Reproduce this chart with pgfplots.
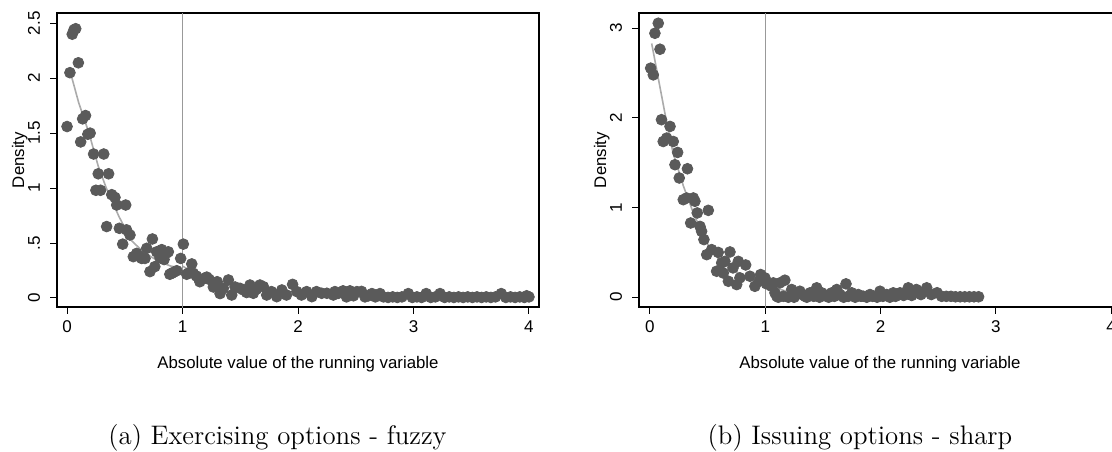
\documentclass[border=0pt]{standalone}
\usepackage{pgfplots}
\pgfplotsset{compat=1.18}
\usepackage{fontspec}
\newfontfamily\statafont{Liberation Sans}
\definecolor{dotc}{HTML}{5A5A5A}
\definecolor{fitc}{HTML}{ABABAB}
\definecolor{vlc}{HTML}{999999}
\pgfplotsset{
 stata/.style={
  scale only axis, width=241pt, height=147pt, anchor=south west,
  axis line style={line width=0.8pt},
  tick align=outside, major tick length=3.4pt, tick style={black, line width=0.5pt},
  xtick={0,1,2,3,4}, xtick pos=bottom, ytick pos=left,
  tick label style={font=\statafont\fontsize{8.5}{10}\selectfont},
  /pgf/number format/assume math mode=true,
  xticklabel style={anchor=north},
  yticklabel style={rotate=90, anchor=base},
  yticklabel shift=5.2pt,
  label style={font=\statafont\fontsize{8.4}{10}\selectfont},
  xlabel={Absolute value of the running variable},
  xlabel style={at={(axis description cs:0.5,0)}, anchor=base, yshift=-30.5pt},
  ylabel={Density},
  ylabel style={at={([xshift=-16.4pt]axis description cs:0,0.5)}, anchor=base},
  scat/.style={only marks, mark=*, mark size=2.7pt, mark options={draw=dotc, fill=dotc}},
  fit/.style={fitc, line width=0.8pt, no marks},
 }
}
\begin{document}
\begin{tikzpicture}
\useasboundingbox (0,0) rectangle (556pt,225.5pt);
% ---------------- panel (a)
\begin{axis}[stata, at={(28.5pt,72pt)},
  xmin=-0.087, xmax=4.087, ymin=-0.082, ymax=2.593,
  ytick={0,0.5,1,1.5,2,2.5}, yticklabels={0,.5,1,1.5,2,2.5}]
\addplot[scat] table {
x y
0.000 1.56
0.025 2.05
0.045 2.40
0.060 2.44
0.075 2.45
0.098 2.14
0.118 1.42
0.135 1.63
0.160 1.66
0.180 1.49
0.200 1.50
0.230 1.31
0.250 0.98
0.270 1.13
0.290 0.98
0.318 1.31
0.343 0.65
0.360 1.13
0.387 0.94
0.415 0.915
0.430 0.846
0.453 0.634
0.482 0.49
0.508 0.846
0.515 0.62
0.545 0.573
0.574 0.376
0.603 0.406
0.625 0.38
0.646 0.36
0.675 0.36
0.690 0.452
0.718 0.24
0.739 0.537
0.760 0.285
0.776 0.42
0.805 0.366
0.820 0.44
0.840 0.35
0.863 0.41
0.877 0.42
0.890 0.216
0.906 0.225
0.920 0.232
0.950 0.248
0.984 0.36
1.007 0.49
1.036 0.216
1.050 0.225
1.080 0.31
1.093 0.225
1.120 0.20
1.150 0.148
1.190 0.18
1.210 0.19
1.230 0.17
1.267 0.10
1.300 0.148
1.325 0.04
1.353 0.088
1.397 0.164
1.426 0.027
1.455 0.10
1.498 0.088
1.527 0.073
1.555 0.05
1.584 0.118
1.613 0.043
1.640 0.08
1.670 0.118
1.700 0.103
1.729 0.027
1.770 0.058
1.816 0.012
1.860 0.073
1.900 0.027
1.953 0.124
1.990 0.058
2.030 0.027
2.075 0.058
2.120 0.012
2.160 0.058
2.205 0.043
2.250 0.043
2.306 0.027
2.320 0.058
2.350 0.043
2.390 0.065
2.420 0.01
2.450 0.065
2.480 0.02
2.510 0.058
2.550 0.06
2.580 0.01
2.610 0.02
2.640 0.04
2.670 0.01
2.710 0.04
2.740 0.01
2.780 0.005
2.820 0.01
2.860 0.005
2.900 0.01
2.955 0.04
2.990 0.005
3.030 0.01
3.070 0.005
3.110 0.04
3.150 0.005
3.190 0.01
3.230 0.04
3.270 0.005
3.310 0.01
3.350 0.005
3.390 0.01
3.430 0.005
3.470 0.01
3.510 0.005
3.550 0.01
3.590 0.005
3.630 0.01
3.670 0.005
3.710 0.01
3.760 0.04
3.800 0.005
3.840 0.01
3.880 0.005
3.920 0.01
3.960 0.005
3.980 0.02
4.000 0.01
};
\addplot[fit] coordinates {(0.03,2.05) (0.1,1.78) (0.19,1.5) (0.27,1.2) (0.34,1.0) (0.45,0.74) (0.56,0.52) (0.65,0.43) (0.72,0.38) (0.8,0.33) (0.9,0.29) (1.0,0.27)};
\addplot[fit] coordinates {(1.0,0.29) (1.1,0.23) (1.27,0.15) (1.5,0.09) (1.75,0.066) (2.0,0.055) (2.35,0.04) (2.7,0.022) (3.2,0.013) (4.0,0.01)};
\addplot[vlc, line width=0.5pt] coordinates {(1,-1) (1,10)};
\end{axis}
% ---------------- panel (b)
\begin{axis}[stata, at={(319.5pt,72pt)},
  xmin=-0.095, xmax=4.085, ymin=-0.109, ymax=3.17,
  ytick={0,1,2,3}, yticklabels={0,1,2,3}]
\addplot[scat] table {
x y
0.006 2.555
0.029 2.48
0.043 2.944
0.072 3.056
0.087 2.766
0.100 1.98
0.115 1.737
0.145 1.775
0.174 1.905
0.202 1.737
0.217 1.478
0.240 1.615
0.254 1.33
0.289 1.088
0.318 1.107
0.325 1.433
0.353 0.828
0.376 1.107
0.390 1.07
0.410 0.94
0.434 0.79
0.448 0.735
0.468 0.643
0.492 0.475
0.506 0.969
0.535 0.531
0.578 0.29
0.592 0.50
0.622 0.383
0.636 0.27
0.650 0.40
0.680 0.178
0.694 0.505
0.720 0.327
0.752 0.141
0.766 0.40
0.780 0.216
0.830 0.36
0.867 0.234
0.910 0.122
0.948 0.178
0.960 0.253
0.997 0.216
1.010 0.15
1.055 0.122
1.070 0.16
1.084 0.049
1.100 0.011
1.113 0.0
1.127 0.16
1.157 0.011
1.170 0.19
1.200 0.0
1.229 0.086
1.250 0.0
1.272 0.03
1.300 0.067
1.320 0.03
1.344 0.011
1.360 0.0
1.388 0.049
1.420 0.01
1.446 0.105
1.470 0.0
1.490 0.049
1.510 0.03
1.533 0.011
1.550 0.0
1.576 0.049
1.600 0.01
1.620 0.086
1.648 0.03
1.680 0.0
1.700 0.149
1.720 0.01
1.750 0.049
1.780 0.0
1.807 0.03
1.830 0.01
1.850 0.011
1.880 0.0
1.908 0.03
1.930 0.01
1.970 0.0
1.995 0.067
2.020 0.01
2.053 0.03
2.080 0.0
2.110 0.049
2.130 0.01
2.168 0.049
2.200 0.02
2.240 0.105
2.270 0.02
2.310 0.086
2.350 0.03
2.400 0.105
2.440 0.03
2.490 0.05
2.530 0.01
2.570 0.01
2.610 0.01
2.650 0.005
2.690 0.005
2.730 0.005
2.770 0.005
2.810 0.005
2.850 0.005
};
\addplot[fit] coordinates {(0.015,2.83) (0.13,2.05) (0.2,1.61) (0.29,1.24) (0.376,0.94) (0.49,0.61) (0.61,0.40) (0.78,0.26) (0.9,0.19) (1.0,0.16)};
\addplot[fit] coordinates {(1.0,0.16) (1.1,0.1) (1.21,0.055) (1.4,0.035) (1.65,0.03) (2.0,0.03) (2.17,0.025) (2.4,0.01) (2.85,0.005)};
\addplot[vlc, line width=0.5pt] coordinates {(1,-1) (1,10)};
\end{axis}
\node[anchor=base, font=\fontsize{13.4}{16}\selectfont] at (138.75pt,3.25pt) {(a) Exercising options - fuzzy};
\node[anchor=base, font=\fontsize{13.4}{16}\selectfont] at (430pt,3.25pt) {(b) Issuing options - sharp};
\end{tikzpicture}
\end{document}
